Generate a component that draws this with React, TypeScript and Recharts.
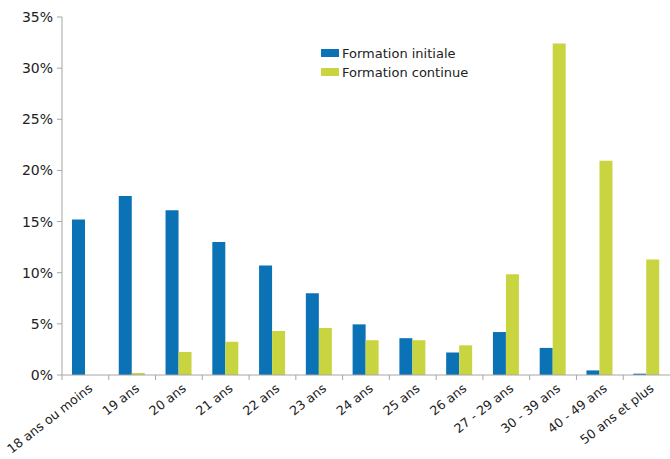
import React from "react";
import { BarChart, Bar, XAxis, YAxis } from "recharts";

const categories = [
  "18 ans ou moins", "19 ans", "20 ans", "21 ans", "22 ans", "23 ans", "24 ans",
  "25 ans", "26 ans", "27 - 29 ans", "30 - 39 ans", "40 - 49 ans", "50 ans et plus",
];
const initiale = [15.2, 17.5, 16.1, 13.0, 10.7, 8.0, 4.95, 3.6, 2.2, 4.2, 2.65, 0.45, 0.13];
const continue_ = [0, 0.2, 2.25, 3.25, 4.3, 4.6, 3.4, 3.4, 2.9, 9.85, 32.4, 20.95, 11.3];
const yTicks = [0, 5, 10, 15, 20, 25, 30, 35];
const seriesNames = ["Formation initiale", "Formation continue"];

const data = categories.map((c, i) => ({ cat: c, a: initiale[i], b: continue_[i] }));

const W = 670;
const H = 459;
const ML = 5;
const YW = 57;
const MR = 0;
const BAND = (W - ML - YW - MR) / categories.length;
const BLUE = "#0b72b5";
const GREEN = "#c8d440";
const AXIS = "#a6a6a6";
const FONT = "DejaVu Sans, Verdana, sans-serif";

const XTick = (props: any) => {
  const { x, y, payload } = props;
  const bx = x - BAND / 2;
  return (
    <g>
      <line x1={bx} y1={y - 8} x2={bx} y2={y - 3} stroke={AXIS} />
      <text
        transform={`translate(${x + 8},${y + 7}) rotate(-38)`}
        textAnchor="end"
        fontSize={12.6}
        fontFamily={FONT}
        fill="#222"
      >
        {payload.value}
      </text>
    </g>
  );
};

export default function App() {
  return (
    <div style={{ position: "absolute", left: 0, top: 0, width: W, height: H }}>
      <BarChart
        width={W}
        height={H}
        data={data}
        margin={{ top: 17, right: MR, bottom: 0, left: ML }}
        barGap={0}
      >
        <XAxis
          dataKey="cat"
          interval={0}
          height={84}
          stroke={AXIS}
          tickLine={false}
          tick={<XTick />}
        />
        <YAxis
          width={YW}
          domain={[0, 35]}
          ticks={yTicks}
          interval={0}
          stroke={AXIS}
          tickSize={5}
          tickMargin={4}
          tickFormatter={(v: number) => `${v}%`}
          tick={{ fontSize: 14, fontFamily: FONT, fill: "#222" }}
        />
        <Bar dataKey="a" name={seriesNames[0]} fill={BLUE} barSize={13} isAnimationActive={false} />
        <Bar dataKey="b" name={seriesNames[1]} fill={GREEN} barSize={13} isAnimationActive={false} />
      </BarChart>
      <div
        style={{
          position: "absolute",
          left: 321,
          top: 43.5,
          fontFamily: FONT,
          fontSize: 13,
          color: "#222",
        }}
      >
        {seriesNames.map((n, i) => (
          <div key={n} style={{ display: "flex", alignItems: "center", height: 19 }}>
            <span
              style={{
                display: "inline-block",
                width: 18,
                height: 8,
                background: i === 0 ? BLUE : GREEN,
                marginRight: 3,
              }}
            />
            <span style={{ whiteSpace: "nowrap" }}>{n}</span>
          </div>
        ))}
      </div>
    </div>
  );
}
